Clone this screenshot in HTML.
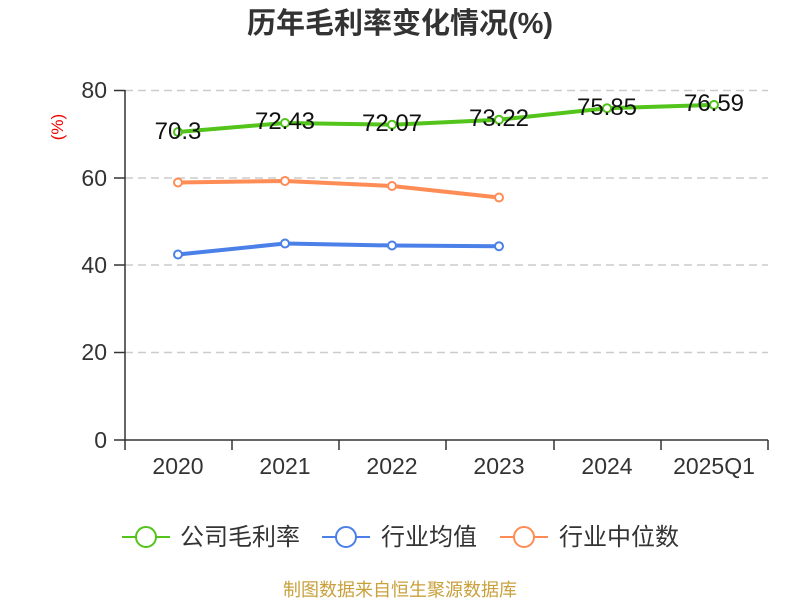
<!DOCTYPE html>
<html><head><meta charset="utf-8"><style>body{margin:0;background:#fff}</style></head><body>
<svg width="800" height="600" xmlns="http://www.w3.org/2000/svg" font-family="Liberation Sans, Noto Sans CJK SC, sans-serif">
<text x="400" y="33" text-anchor="middle" font-size="29" font-weight="bold" fill="#333">历年毛利率变化情况(%)</text>
<text x="63" y="127" text-anchor="middle" font-size="17" fill="#e00" transform="rotate(-90 63 127)">(%)</text>
<g stroke="#ccc" stroke-dasharray="8,5" stroke-width="1.5">
<line x1="125" y1="90.5" x2="768" y2="90.5"/><line x1="125" y1="178" x2="768" y2="178"/><line x1="125" y1="265" x2="768" y2="265"/><line x1="125" y1="352.5" x2="768" y2="352.5"/></g>
<g stroke="#333" stroke-width="1.5" fill="none">
<line x1="125" y1="90" x2="125" y2="440"/><line x1="125" y1="440" x2="768" y2="440"/>
<line x1="114" y1="90.5" x2="125" y2="90.5"/><line x1="114" y1="178" x2="125" y2="178"/><line x1="114" y1="265" x2="125" y2="265"/><line x1="114" y1="352.5" x2="125" y2="352.5"/><line x1="114" y1="440" x2="125" y2="440"/>
<line x1="125" y1="440" x2="125" y2="450"/><line x1="232" y1="440" x2="232" y2="450"/><line x1="339" y1="440" x2="339" y2="450"/><line x1="446" y1="440" x2="446" y2="450"/><line x1="554" y1="440" x2="554" y2="450"/><line x1="661" y1="440" x2="661" y2="450"/><line x1="768" y1="440" x2="768" y2="450"/></g>
<g font-size="23" fill="#333" text-anchor="end">
<text x="107" y="98">80</text><text x="107" y="186">60</text><text x="107" y="273">40</text><text x="107" y="360">20</text><text x="107" y="448">0</text></g>
<g font-size="23" fill="#333" text-anchor="middle">
<text x="178" y="474">2020</text><text x="285" y="474">2021</text><text x="392" y="474">2022</text><text x="499" y="474">2023</text><text x="607" y="474">2024</text><text x="714" y="474">2025Q1</text></g>
<polyline points="178,132 285,123 392,124.7 499,119.7 607,108.2 714,104.9" fill="none" stroke="#52c41a" stroke-width="4"/>
<polyline points="178,182.5 285,181 392,186 499,197.5" fill="none" stroke="#ff8c55" stroke-width="4"/>
<polyline points="178,254.5 285,243.5 392,245.5 499,246.2" fill="none" stroke="#4a80e8" stroke-width="4"/>
<g fill="#fff" stroke-width="2">
<g stroke="#52c41a"><circle cx="178" cy="132" r="4"/><circle cx="285" cy="123" r="4"/><circle cx="392" cy="124.7" r="4"/><circle cx="499" cy="119.7" r="4"/><circle cx="607" cy="108.2" r="4"/><circle cx="714" cy="104.9" r="4"/></g>
<g stroke="#ff8c55"><circle cx="178" cy="182.5" r="4"/><circle cx="285" cy="181" r="4"/><circle cx="392" cy="186" r="4"/><circle cx="499" cy="197.5" r="4"/></g>
<g stroke="#4a80e8"><circle cx="178" cy="254.5" r="4"/><circle cx="285" cy="243.5" r="4"/><circle cx="392" cy="245.5" r="4"/><circle cx="499" cy="246.2" r="4"/></g></g>
<g font-size="24" fill="#111" text-anchor="middle">
<text x="178" y="139">70.3</text><text x="285" y="129">72.43</text><text x="392" y="131">72.07</text><text x="499" y="126">73.22</text><text x="607" y="115">75.85</text><text x="714" y="111">76.59</text></g>
<g stroke-width="2" fill="#fff">
<line x1="122" y1="537" x2="170" y2="537" stroke="#52c41a"/><circle cx="146" cy="537" r="10" stroke="#52c41a"/>
<line x1="322" y1="537" x2="370" y2="537" stroke="#4a80e8"/><circle cx="346" cy="537" r="10" stroke="#4a80e8"/>
<line x1="500" y1="537" x2="548" y2="537" stroke="#ff8c55"/><circle cx="524" cy="537" r="10" stroke="#ff8c55"/></g>
<g font-size="24" fill="#333">
<text x="180" y="545">公司毛利率</text><text x="381" y="545">行业均值</text><text x="559" y="545">行业中位数</text></g>
<text x="400" y="596" text-anchor="middle" font-size="18" fill="#c8a03c">制图数据来自恒生聚源数据库</text>
</svg>
</body></html>
